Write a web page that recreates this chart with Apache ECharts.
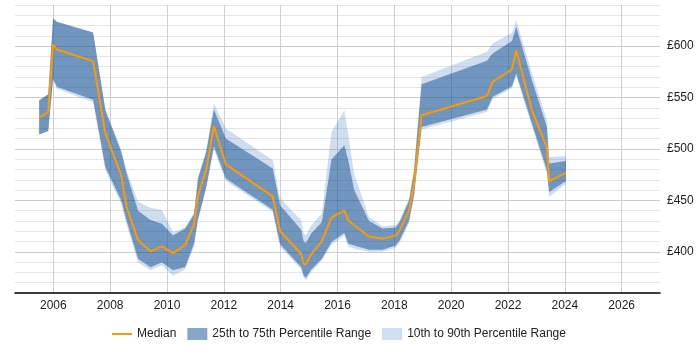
<!DOCTYPE html>
<html>
<head>
<meta charset="utf-8">
<script src="https://cdn.jsdelivr.net/npm/echarts@6/dist/echarts.min.js"></script>
<style>
  html, body { margin: 0; padding: 0; background: #fff; }
  #chart { width: 700px; height: 350px; }
</style>
</head>
<body>
<div id="chart"></div>
<script>
// sample times (decimal years)
const years = [2005.50, 2005.82, 2005.99, 2006.12, 2007.40, 2007.83, 2008.39, 2008.58, 2008.98, 2009.42,
  2009.82, 2010.21, 2010.64, 2010.95, 2011.09, 2011.38, 2011.65, 2012.07, 2013.72, 2013.98,
  2014.72, 2014.81, 2014.89, 2015.07, 2015.45, 2015.79, 2016.24, 2016.38, 2016.59, 2017.11,
  2017.58, 2018.05, 2018.19, 2018.52, 2018.69, 2018.96, 2021.26, 2021.46, 2022.14, 2022.29,
  2022.84, 2023.37, 2023.45, 2024.04];

const median = [530.6, 536, 601.6, 596.8, 585.4, 515, 474.4, 443.6, 411.2, 400.5,
  405.4, 398.8, 406.8, 426.8, 454.5, 480, 522.2, 485, 454, 420,
  398.2, 388.5, 387.8, 397.6, 410.5, 433.3, 440.4, 430.7, 425.8, 415,
  412.8, 416, 420.9, 440.4, 466.4, 532.8, 551.6, 565.3, 577.3, 596.1,
  537.7, 501.4, 468.9, 476.7];

const p25 = [514, 517.6, 568.5, 560.4, 548, 482.5, 450, 430, 393.4, 385,
  390, 382, 385.2, 408, 432, 463, 502.7, 471.2, 441, 407.3,
  385.2, 377, 374.9, 382.7, 393.4, 409.5, 418.3, 408, 406.3, 402,
  402.1, 406.3, 411.2, 430.7, 455, 521.5, 538.4, 550.7, 561, 573.4,
  525, 479.3, 458.2, 468.9];

const p75 = [547.4, 553.3, 627, 623.7, 613.3, 537.7, 497, 476, 440, 431,
  427.4, 416, 422.6, 436.2, 471, 497, 538.4, 510.2, 481, 445.3,
  421.6, 410, 408.6, 417.7, 429, 489.7, 503.6, 488.7, 460, 430,
  422.6, 423.6, 429, 450, 478, 563, 585.7, 592.9, 605, 618.8,
  567, 521.5, 485.8, 488.4];

const p10 = [514, 517.6, 566, 558.5, 545.5, 479, 447, 426, 390, 382,
  387, 377, 383, 405, 430, 461, 500, 469, 439, 405,
  383, 375, 372.5, 380.5, 391.5, 407, 416, 405, 403, 400,
  400, 404, 409, 428, 452, 519, 536, 548.5, 559, 571,
  522, 476, 453.5, 466.3];

const p90 = [547.4, 553.3, 627, 623.7, 613.3, 539, 499, 479, 448.5, 443,
  440.4, 419.3, 423.6, 438, 473, 499, 544.2, 519.9, 489, 451.8,
  430.7, 418, 416, 425.7, 437.2, 516.6, 537.7, 513.7, 475, 434,
  425, 426, 431, 452, 480, 570.1, 594.5, 602.6, 613, 625.3,
  574, 528, 492.3, 492.9];

const xTicks = [2006, 2008, 2010, 2012, 2014, 2016, 2018, 2020, 2022, 2024, 2026];

const chart = echarts.init(document.getElementById("chart"), null, { renderer: "canvas" });
const font = "'Liberation Sans', Arial, sans-serif";
const outerColor = "rgba(60, 120, 190, 0.25)";
const innerColor = "rgba(24, 82, 145, 0.52)";

// one polygon per band, built from the lower and upper arrays
const bandSeries = (name, lo, hi, color, z) => ({
  name: name,
  type: "custom",
  silent: true,
  z: z,
  itemStyle: { color: color },
  data: years.map((y, i) => [y, lo[i], hi[i]]),
  encode: { x: 0, y: [1, 2] },
  renderItem: (params, api) => {
    if (params.dataIndex !== 0) return null;
    const pts = [];
    for (let i = 0; i < years.length; i++) pts.push(api.coord([years[i], hi[i]]));
    for (let i = years.length - 1; i >= 0; i--) pts.push(api.coord([years[i], lo[i]]));
    return {
      type: "polygon",
      shape: { points: pts },
      style: { fill: color },
    };
  },
});

const option = {
  animation: false,
  textStyle: { fontFamily: font },
  grid: { left: 15, right: 40, top: 5, bottom: 57 },
  xAxis: {
    type: "value",
    min: 2004.65,
    max: 2027.35,
    axisLine: { show: true, lineStyle: { color: "#000", width: 1.5 } },
    axisTick: { show: false, customValues: xTicks },
    axisLabel: {
      customValues: xTicks,
      color: "#222",
      fontSize: 12,
      margin: 7,
      fontFamily: font,
      formatter: (v) => String(v),
    },
    splitLine: { show: true, lineStyle: { color: "#cfcfcf", width: 1 } },
  },
  yAxis: {
    type: "value",
    position: "right",
    min: 360,
    max: 640,
    interval: 10,
    axisLine: { show: false },
    axisTick: { show: false },
    axisLabel: {
      color: "#222",
      fontSize: 12,
      margin: 7,
      fontFamily: font,
      formatter: (v) => (v % 50 === 0 ? "£" + v : ""),
    },
    splitLine: {
      lineStyle: { color: ["#e6e6e6", "#e6e6e6", "#e6e6e6", "#e6e6e6", "#cccccc"], width: 1 },
    },
  },
  legend: {
    bottom: 5,
    left: 106,
    itemWidth: 20,
    itemHeight: 12,
    itemGap: 11,
    textStyle: { fontSize: 12, color: "#222", fontFamily: font },
    data: [
      { name: "Median", itemStyle: { opacity: 0 } },
      { name: "25th to 75th Percentile Range", icon: "rect" },
      { name: "10th to 90th Percentile Range", icon: "rect" },
    ],
  },
  series: [
    bandSeries("10th to 90th Percentile Range", p10, p90, outerColor, 1),
    bandSeries("25th to 75th Percentile Range", p25, p75, innerColor, 2),
    {
      name: "Median",
      type: "line",
      symbol: "none",
      data: years.map((y, i) => [y, median[i]]),
      itemStyle: { color: "#ff9900" },
      lineStyle: { color: "#ff9900", width: 2 },
      z: 5,
    },
  ],
};

chart.setOption(option);
</script>
</body>
</html>
